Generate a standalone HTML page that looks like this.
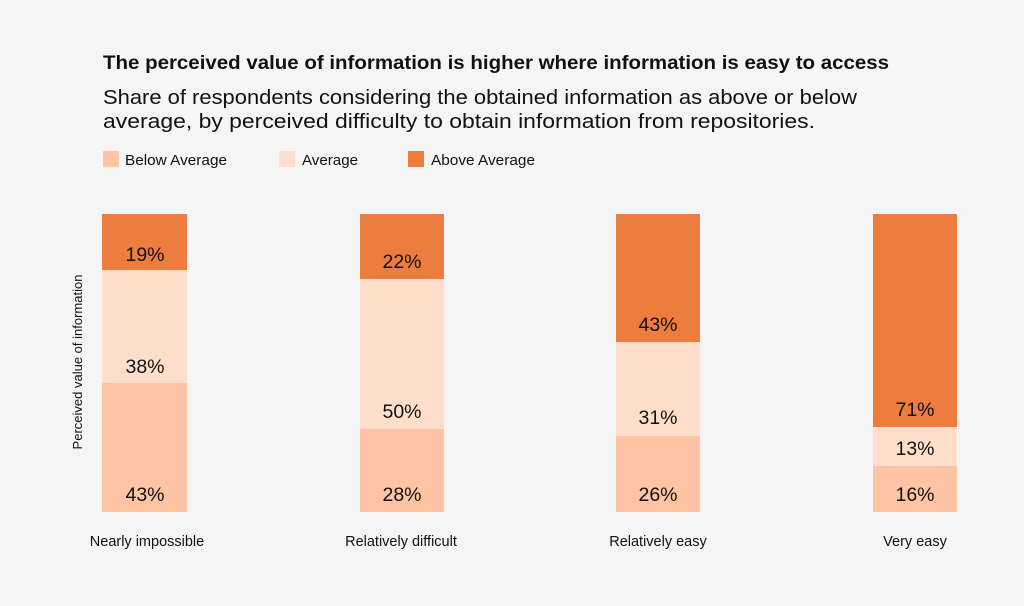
<!DOCTYPE html>
<html><head><style>
body{margin:0;background:#f5f5f5;}
svg text{font-family:"Liberation Sans",sans-serif;fill:#111;}
</style></head><body>
<svg width="1024" height="601" xmlns="http://www.w3.org/2000/svg">
<rect width="1024" height="601" fill="#f5f5f5"/>
<text x="103" y="69" font-size="19.5" font-weight="bold" textLength="786" lengthAdjust="spacingAndGlyphs">The perceived value of information is higher where information is easy to access</text>
<text x="103" y="104" font-size="20.5" textLength="754" lengthAdjust="spacingAndGlyphs">Share of respondents considering the obtained information as above or below</text>
<text x="103" y="128" font-size="20.5" textLength="712" lengthAdjust="spacingAndGlyphs">average, by perceived difficulty to obtain information from repositories.</text>
<rect x="103" y="151" width="16" height="16" fill="#FFC4A3"/><text x="125" y="165" font-size="14.5" textLength="102" lengthAdjust="spacingAndGlyphs">Below Average</text>
<rect x="279" y="151" width="16" height="16" fill="#FFDFCC"/><text x="302" y="165" font-size="14.5" textLength="56" lengthAdjust="spacingAndGlyphs">Average</text>
<rect x="408" y="151" width="16" height="16" fill="#ED7D3E"/><text x="431" y="165" font-size="14.5" textLength="104" lengthAdjust="spacingAndGlyphs">Above Average</text>
<text transform="translate(82,362) rotate(-90)" text-anchor="middle" font-size="13">Perceived value of information</text>
<g font-size="19.5" text-anchor="middle">
<rect x="102" y="214" width="85" height="56" fill="#ED7D3E"/><rect x="102" y="270" width="85" height="113" fill="#FFDFCC"/><rect x="102" y="383" width="85" height="129" fill="#FFC4A3"/>
<text x="145" y="261">19%</text><text x="145" y="373">38%</text><text x="145" y="501">43%</text>
<rect x="360" y="214" width="84" height="65" fill="#ED7D3E"/><rect x="360" y="279" width="84" height="150" fill="#FFDFCC"/><rect x="360" y="429" width="84" height="83" fill="#FFC4A3"/>
<text x="402" y="268">22%</text><text x="402" y="418">50%</text><text x="402" y="501">28%</text>
<rect x="616" y="214" width="84" height="128" fill="#ED7D3E"/><rect x="616" y="342" width="84" height="94" fill="#FFDFCC"/><rect x="616" y="436" width="84" height="76" fill="#FFC4A3"/>
<text x="658" y="331">43%</text><text x="658" y="424">31%</text><text x="658" y="501">26%</text>
<rect x="873" y="214" width="84" height="213" fill="#ED7D3E"/><rect x="873" y="427" width="84" height="39" fill="#FFDFCC"/><rect x="873" y="466" width="84" height="46" fill="#FFC4A3"/>
<text x="915" y="416">71%</text><text x="915" y="455">13%</text><text x="915" y="501">16%</text>
</g>
<g font-size="14.5" text-anchor="middle">
<text x="147" y="546">Nearly impossible</text><text x="401" y="546">Relatively difficult</text><text x="658" y="546">Relatively easy</text><text x="915" y="546">Very easy</text>
</g>
</svg>
</body></html>
